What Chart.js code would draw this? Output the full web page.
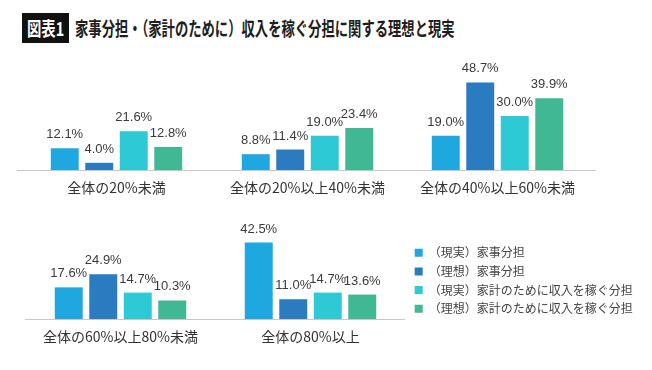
<!DOCTYPE html>
<html>
<head>
<meta charset="utf-8">
<script src="https://cdn.jsdelivr.net/npm/chart.js@4.4.1/dist/chart.umd.min.js"></script>
<style>
html, body { margin: 0; padding: 0; background: #fff; width: 652px; height: 370px; overflow: hidden; }
body { position: relative; font-family: 'Noto Sans CJK JP', sans-serif; }
canvas { position: absolute; }
#badge { position: absolute; left: 22px; top: 13px; width: 47px; height: 30px; background: #111; }
#badge span { position: absolute; left: 5px; top: 0; line-height: 30px; color: #fff; font-weight: bold; font-size: 19px; white-space: nowrap; transform-origin: 0 50%; }
#title { position: absolute; left: 75px; top: 13px; line-height: 30px; font-weight: bold; font-size: 19px; color: #1e1e1e; white-space: nowrap; transform-origin: 0 50%; }
</style>
</head>
<body>
<div id="badge"><span id="badgeText">図表1</span></div>
<div id="title">家事分担・（家計のために）収入を稼ぐ分担に関する理想と現実</div>
<canvas id="p0"></canvas>
<canvas id="p1"></canvas>
<canvas id="p2"></canvas>
<canvas id="p3"></canvas>
<canvas id="p4"></canvas>
<canvas id="legend"></canvas>
<script>
// data
const groups = ['全体の20%未満', '全体の20%以上40%未満', '全体の40%以上60%未満', '全体の60%以上80%未満', '全体の80%以上'];
const seriesNames = ['（現実）家事分担', '（理想）家事分担', '（現実）家計のために収入を稼ぐ分担', '（理想）家計のために収入を稼ぐ分担'];
const houseworkActual = [12.1, 8.8, 19.0, 17.6, 42.5];
const houseworkIdeal = [4.0, 11.4, 48.7, 24.9, 11.0];
const incomeActual = [21.6, 19.0, 30.0, 14.7, 14.7];
const incomeIdeal = [12.8, 23.4, 39.9, 10.3, 13.6];
const seriesValues = [houseworkActual, houseworkIdeal, incomeActual, incomeIdeal];
const seriesColors = ['#1fa8df', '#2a7bbf', '#2dc9d5', '#3fb893'];

// panel boxes (canvas position = axis line extent)
const panels = [
    { left: 17, top: 46, width: 199 },
    { left: 216, top: 46, width: 183 },
    { left: 399, top: 46, width: 197 },
    { left: 25, top: 195, width: 191 },
    { left: 216, top: 195, width: 189 },
];
const panelHeight = 154;
const groupSpan = 138;

const jpFont = "'Noto Sans CJK JP', 'Noto Sans', sans-serif";

// fit title widths
const title = document.getElementById('title');
title.style.transform = 'scaleX(' + (380 / title.offsetWidth) + ')';
const badgeText = document.getElementById('badgeText');
badgeText.style.transform = 'scaleX(' + (37 / badgeText.offsetWidth) + ')';

const valueLabels = {
    id: 'valueLabels',
    afterDatasetsDraw(chart) {
        const ctx = chart.ctx;
        ctx.save();
        ctx.font = "13px 'Liberation Sans', Arial, sans-serif";
        ctx.fillStyle = '#3a3a3a';
        ctx.textAlign = 'center';
        ctx.textBaseline = 'alphabetic';
        chart.data.datasets.forEach((ds, i) => {
            chart.getDatasetMeta(i).data.forEach((bar, j) => {
                ctx.fillText(ds.data[j].toFixed(1) + '%', bar.x, bar.y - 10);
            });
        });
        ctx.restore();
    }
};

panels.forEach((p, g) => {
    const canvas = document.getElementById('p' + g);
    canvas.width = p.width;
    canvas.height = panelHeight;
    canvas.style.left = p.left + 'px';
    canvas.style.top = p.top + 'px';
    new Chart(canvas.getContext('2d'), {
        type: 'bar',
        data: {
            labels: [groups[g]],
            datasets: seriesNames.map((name, i) => ({
                label: name,
                data: [seriesValues[i][g]],
                backgroundColor: seriesColors[i],
                borderWidth: 0,
                categoryPercentage: groupSpan / p.width,
                barPercentage: 0.81,
            })),
        },
        options: {
            responsive: false,
            animation: false,
            layout: { padding: 0 },
            plugins: { legend: { display: false }, tooltip: { enabled: false } },
            scales: {
                x: {
                    grid: { display: false, drawTicks: false },
                    border: { color: '#c8c8c8', width: 1 },
                    ticks: { padding: 9, color: '#333', font: { family: jpFont, size: 14 } },
                    afterFit(s) { s.height = 30; },
                },
                y: { display: false, min: 0, max: 69 },
            },
        },
        plugins: [valueLabels],
    });
});

// legend
const legendCanvas = document.getElementById('legend');
legendCanvas.width = 244;
legendCanvas.height = 84;
legendCanvas.style.left = '408px';
legendCanvas.style.top = '240px';
new Chart(legendCanvas.getContext('2d'), {
    type: 'bar',
    data: {
        labels: [''],
        datasets: seriesNames.map((name, i) => ({
            label: name,
            data: [],
            backgroundColor: seriesColors[i],
        })),
    },
    options: {
        responsive: false,
        animation: false,
        plugins: {
            tooltip: { enabled: false },
            legend: {
                position: 'left',
                align: 'start',
                maxWidth: 260,
                labels: {
                    boxWidth: 8,
                    boxHeight: 8,
                    padding: 6.7,
                    color: '#444',
                    font: { family: jpFont, size: 12 },
                },
            },
        },
        scales: { x: { display: false }, y: { display: false } },
    },
});
</script>
</body>
</html>
